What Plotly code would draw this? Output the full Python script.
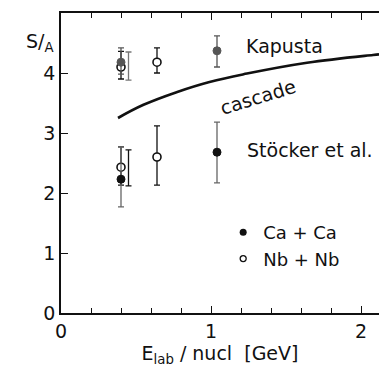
import plotly.graph_objects as go

# Entropy per baryon S/A versus beam energy per nucleon
# Upper group: Kapusta analysis; lower group: Stöcker et al.
kap_ca_x = [0.40, 1.04]
kap_ca_y = [4.18, 4.37]
kap_ca_up = [0.24, 0.25]
kap_ca_dn = [0.20, 0.27]

kap_nb_x = [0.40, 0.64]
kap_nb_y = [4.10, 4.18]
kap_nb_up = [0.26, 0.24]
kap_nb_dn = [0.20, 0.18]

kap_extra_x = [0.45]
kap_extra_y = [4.12]
kap_extra_up = [0.23]
kap_extra_dn = [0.24]

st_ca_x = [0.40, 1.04]
st_ca_y = [2.23, 2.68]
st_ca_up = [0.54, 0.50]
st_ca_dn = [0.46, 0.51]

st_nb_x = [0.40, 0.64]
st_nb_y = [2.43, 2.60]
st_nb_up = [0.34, 0.52]
st_nb_dn = [0.30, 0.47]

st_extra_x = [0.45]
st_extra_y = [2.42]
st_extra_up = [0.30]
st_extra_dn = [0.30]

# Cascade calculation
cascade_x = [0.38, 0.55, 0.77, 0.99, 1.24, 1.64, 2.08, 2.12]
cascade_y = [3.25, 3.47, 3.68, 3.85, 3.99, 4.17, 4.30, 4.31]

FONT = "DejaVu Sans"
INK = "#111111"
GREY = "#555555"

fig = go.Figure()

fig.add_trace(go.Scatter(
    x=cascade_x, y=cascade_y, mode="lines",
    line=dict(color=INK, width=2.6, shape="spline", smoothing=1.2),
    showlegend=False, hoverinfo="skip"))


def err(up, dn, color):
    return dict(type="data", symmetric=False, array=up, arrayminus=dn,
                color=color, thickness=1.3, width=3)


# error-bar-only measurements slightly offset in energy
fig.add_trace(go.Scatter(
    x=kap_extra_x, y=kap_extra_y, mode="markers",
    marker=dict(size=1, color="rgba(0,0,0,0)"),
    error_y=err(kap_extra_up, kap_extra_dn, "#777777"), showlegend=False))
fig.add_trace(go.Scatter(
    x=st_extra_x, y=st_extra_y, mode="markers",
    marker=dict(size=1, color="rgba(0,0,0,0)"),
    error_y=err(st_extra_up, st_extra_dn, INK), showlegend=False))

# Nb + Nb (open circles)
fig.add_trace(go.Scatter(
    x=kap_nb_x, y=kap_nb_y, mode="markers",
    marker=dict(size=8, symbol="circle", color="white", line=dict(color=INK, width=1.6)),
    error_y=err(kap_nb_up, kap_nb_dn, INK), showlegend=False))
fig.add_trace(go.Scatter(
    x=st_nb_x, y=st_nb_y, mode="markers",
    marker=dict(size=8, symbol="circle", color="white", line=dict(color=INK, width=1.6)),
    error_y=err(st_nb_up, st_nb_dn, INK), showlegend=False))

# Ca + Ca (filled circles)
fig.add_trace(go.Scatter(
    x=kap_ca_x, y=kap_ca_y, mode="markers",
    marker=dict(size=8, symbol="circle", color=GREY, line=dict(color=GREY, width=1)),
    error_y=err(kap_ca_up, kap_ca_dn, GREY), showlegend=False))
fig.add_trace(go.Scatter(
    x=st_ca_x, y=st_ca_y, mode="markers",
    marker=dict(size=8, symbol="circle", color=INK, line=dict(color=INK, width=1)),
    error_y=err(st_ca_up, st_ca_dn, "#666666"), showlegend=False))

# legend keys
fig.add_trace(go.Scatter(
    x=[None], y=[None], mode="markers", name="Ca + Ca",
    marker=dict(size=7, symbol="circle", color=INK)))
fig.add_trace(go.Scatter(
    x=[None], y=[None], mode="markers", name="Nb + Nb",
    marker=dict(size=6, symbol="circle", color="white", line=dict(color=INK, width=1.3))))

axis_common = dict(
    showline=True, linecolor=INK, linewidth=1.6,
    ticks="inside", tickcolor=INK, tickwidth=1.3,
    showgrid=False, zeroline=False,
    tickfont=dict(family=FONT, size=19, color=INK),
)

fig.update_xaxes(
    range=[0, 2.12], tickvals=[0, 1, 2], ticklen=7, mirror="ticks",
    minor=dict(dtick=0.2, tick0=0, ticks="inside", ticklen=5, tickcolor=INK, tickwidth=1.1),
    title=dict(text="E<sub>lab</sub> / nucl  [GeV]", font=dict(family=FONT, size=19, color=INK),
               standoff=6),
    **axis_common)
fig.update_yaxes(
    range=[0, 5], tickvals=[0, 1, 2, 3, 4], ticklen=7,
    **axis_common)

fig.add_annotation(text="S/<sub>A</sub>", xref="paper", yref="paper",
                   x=-0.115, y=0.95, showarrow=False,
                   font=dict(family=FONT, size=19, color=INK))
fig.add_annotation(text="Kapusta", x=1.49, y=4.45, showarrow=False,
                   font=dict(family=FONT, size=19, color=INK))
fig.add_annotation(text="cascade", x=1.31, y=3.6, showarrow=False, textangle=-17,
                   font=dict(family=FONT, size=19, color=INK))
fig.add_annotation(text="Stöcker et al.", x=1.66, y=2.72, showarrow=False,
                   font=dict(family=FONT, size=19, color=INK))

fig.update_layout(
    width=379, height=368,
    margin=dict(l=61, r=0, t=13, b=55),
    paper_bgcolor="white", plot_bgcolor="white",
    legend=dict(x=0.51, y=0.33, xanchor="left", yanchor="top",
                bgcolor="rgba(0,0,0,0)", font=dict(family=FONT, size=18, color=INK),
                itemwidth=30, tracegroupgap=4),
)

fig.write_html("out.html")
